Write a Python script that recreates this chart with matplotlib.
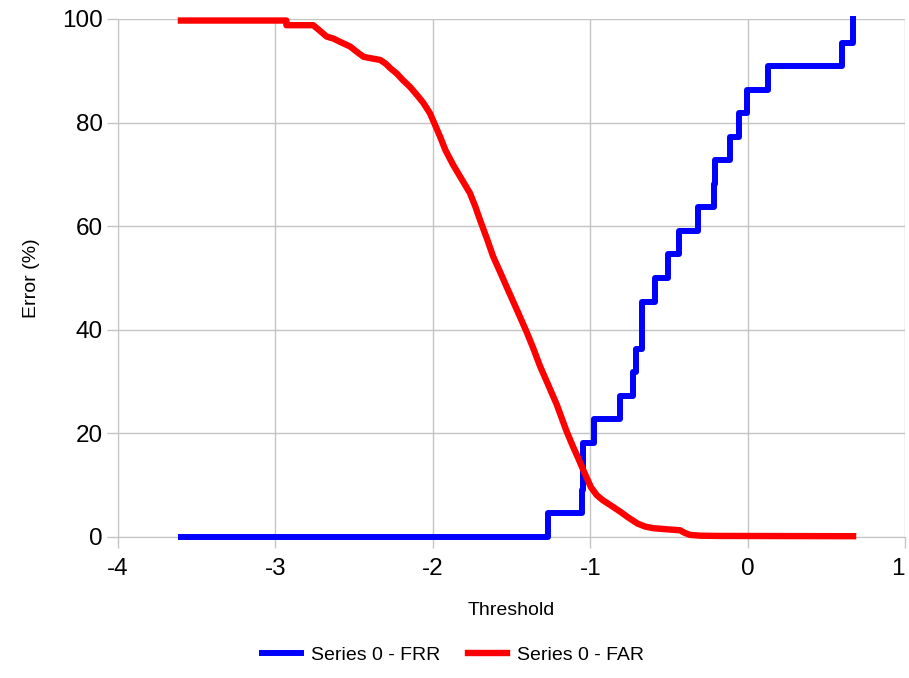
import matplotlib.pyplot as plt

plt.rcParams['font.family'] = ['Liberation Sans', 'DejaVu Sans']
plt.rcParams['axes.unicode_minus'] = False

# False rejection rate: step function over threshold
frr_threshold = [-3.6, -1.27, -1.055, -1.044, -0.976, -0.81, -0.727, -0.711,
                 -0.671, -0.59, -0.505, -0.436, -0.315, -0.213, -0.208,
                 -0.112, -0.055, -0.006, 0.13, 0.598, 0.67]
frr_error = [0.0, 4.55, 9.09, 18.18, 22.73, 27.27, 31.82, 36.36,
             45.45, 50.0, 54.55, 59.09, 63.64, 68.18, 72.73,
             77.27, 81.82, 86.36, 90.91, 95.45, 100.0]

# False acceptance rate
far_threshold = [-3.6, -2.93, -2.93, -2.76, -2.72, -2.674, -2.63, -2.59,
                 -2.526, -2.48, -2.44, -2.39, -2.335, -2.30, -2.27, -2.23,
                 -2.19, -2.145, -2.10, -2.06, -2.018, -1.985, -1.954, -1.92,
                 -1.87, -1.827, -1.764, -1.73, -1.70, -1.655, -1.616, -1.57,
                 -1.531, -1.49, -1.446, -1.40, -1.36, -1.319, -1.27, -1.213,
                 -1.15, -1.11, -1.076, -1.045, -1.022, -0.995, -0.959, -0.92,
                 -0.874, -0.81, -0.76, -0.70, -0.65, -0.60, -0.50, -0.43,
                 -0.40, -0.366, -0.30, -0.18, 0.67]
far_error = [99.7, 99.7, 98.8, 98.8, 97.8, 96.6, 96.2, 95.6,
             94.7, 93.6, 92.7, 92.4, 92.1, 91.4, 90.5, 89.5,
             88.2, 86.9, 85.3, 83.8, 81.8, 79.5, 77.3, 74.7,
             71.8, 69.6, 66.4, 63.8, 61.2, 57.5, 54.1, 51.0,
             48.3, 45.5, 42.5, 39.3, 36.3, 33.0, 29.6, 25.6,
             20.4, 17.5, 15.2, 13.0, 11.4, 9.6, 8.1, 7.1,
             6.2, 4.9, 3.8, 2.6, 2.0, 1.7, 1.45, 1.3,
             0.8, 0.4, 0.25, 0.2, 0.15]

fig = plt.figure(figsize=(9.09, 6.78), dpi=100)
ax = fig.add_axes([0.1298, 0.208, 0.8658, 0.764])

ax.step(frr_threshold, frr_error, where='post', color='#0000ff', lw=4.3,
        label='Series 0 - FRR', clip_on=False, zorder=3)
ax.plot(far_threshold, far_error, color='#ff0000', lw=4.6,
        label='Series 0 - FAR', clip_on=False, zorder=3)

ax.set_xlim(-4, 1)
ax.set_ylim(0, 100)
ax.set_xticks([-4, -3, -2, -1, 0, 1])
ax.set_yticks([0, 20, 40, 60, 80, 100])
ax.grid(True, color='#c4c4c4', lw=1)
ax.set_axisbelow(True)
for side in ['top', 'right']:
    ax.spines[side].set_visible(False)
for side in ['left', 'bottom']:
    ax.spines[side].set_color('#c4c4c4')
ax.tick_params(colors='#c4c4c4', labelcolor='black', labelsize=17.5,
               length=8, width=1)
ax.tick_params(axis='x', pad=7)
ax.tick_params(axis='y', pad=3)
# the last x label sits right at the figure edge; nudge it inwards
ax.get_xticklabels()[-1].set_horizontalalignment('right')

ax.set_xlabel('Threshold', fontsize=14, labelpad=16)
ax.set_ylabel('Error (%)', fontsize=14, labelpad=16)

ax.legend(loc='center', bbox_to_anchor=(0.426, -0.228), ncol=2, frameon=False,
          fontsize=14, handlelength=2.0, handletextpad=0.5, columnspacing=1.45)

fig.savefig('out.png')
